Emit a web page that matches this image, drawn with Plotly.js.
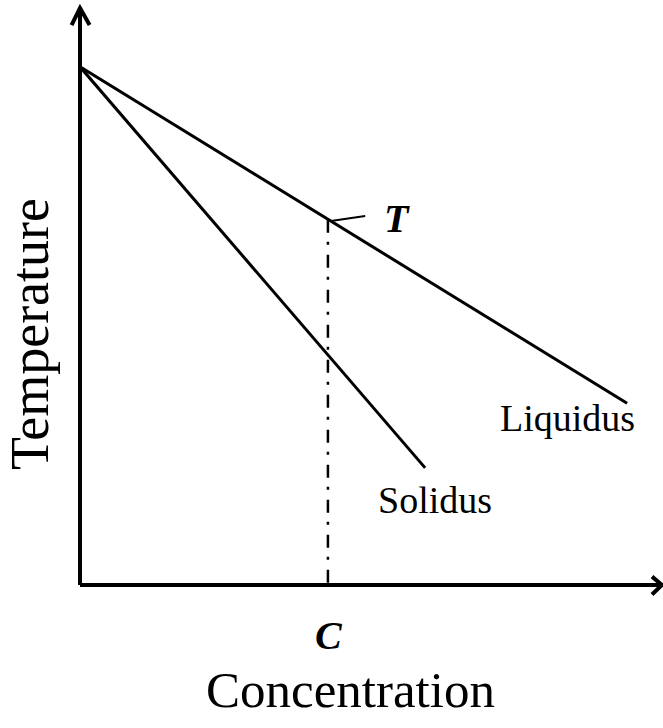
<!DOCTYPE html>
<html>
<head>
<meta charset="utf-8">
<script src="https://cdn.plot.ly/plotly-3.0.1.min.js"></script>
<style>html,body{margin:0;padding:0;background:#fff;}#chart{width:663px;height:728px;}</style>
</head>
<body>
<div id="chart"></div>
<script>
// Data (normalised concentration / temperature units)
const liquidusConc = [0, 0.940];
const liquidusTemp = [0.898, 0.315];
const solidusConc = [0, 0.593];
const solidusTemp = [0.898, 0.203];
const cValue = 0.426;      // concentration C
const tValue = 0.633;      // temperature T on liquidus at C
const labels = {liquidus: 'Liquidus', solidus: 'Solidus', T: 'T', C: 'C',
                xTitle: 'Concentration', yTitle: 'Temperature'};

const serif = 'Liberation Serif, Times New Roman, serif';

const traces = [
  {x: liquidusConc, y: liquidusTemp, mode: 'lines', line: {color: '#000', width: 3}, hoverinfo: 'skip'},
  {x: solidusConc, y: solidusTemp, mode: 'lines', line: {color: '#000', width: 3}, hoverinfo: 'skip'},
  {x: [cValue, cValue], y: [tValue, 0], mode: 'lines',
   line: {color: '#000', width: 2.5, dash: '13px,9px,3px,10px'}, hoverinfo: 'skip'}
];

const layout = {
  width: 663, height: 728,
  margin: {l: 80, r: 1, t: 8, b: 143},
  paper_bgcolor: '#fff', plot_bgcolor: '#fff',
  showlegend: false,
  xaxis: {range: [0, 1], showgrid: false, zeroline: false, showline: false, showticklabels: false, ticks: '', fixedrange: true},
  yaxis: {range: [0, 1], showgrid: false, zeroline: false, showline: false, showticklabels: false, ticks: '', fixedrange: true},
  shapes: [
    // axes
    {type: 'line', xref: 'paper', yref: 'paper', x0: 0, y0: 0, x1: 0, y1: 0.995, line: {color: '#000', width: 4}},
    {type: 'line', xref: 'paper', yref: 'paper', x0: 0, y0: 0, x1: 0.997, y1: 0, line: {color: '#000', width: 4}},
    // arrow heads
    {type: 'path', xref: 'paper', yref: 'paper', path: 'M -0.0145 0.9705 L 0 1.0 L 0.0165 0.9705', line: {color: '#000', width: 4}},
    {type: 'path', xref: 'paper', yref: 'paper', path: 'M 0.9828 0.0145 L 1.0 0 L 0.9828 -0.0165', line: {color: '#000', width: 4}},
    // leader line to T
    {type: 'line', xref: 'paper', yref: 'paper', x0: 0.431, y0: 0.631, x1: 0.490, y1: 0.6395, line: {color: '#000', width: 2}}
  ],
  annotations: [
    {xref: 'paper', yref: 'paper', x: 0.545, y: 0.636, text: '<b><i>' + labels.T + '</i></b>', showarrow: false,
     font: {family: serif, size: 40, color: '#000'}, xanchor: 'center', yanchor: 'middle'},
    {xref: 'paper', yref: 'paper', x: 0.428, y: -0.087, text: '<b><i>' + labels.C + '</i></b>', showarrow: false,
     font: {family: serif, size: 40, color: '#000'}, xanchor: 'center', yanchor: 'middle'},
    {xref: 'paper', yref: 'paper', x: 0.837, y: 0.289, text: labels.liquidus, showarrow: false,
     font: {family: serif, size: 38, color: '#000'}, xanchor: 'center', yanchor: 'middle'},
    {xref: 'paper', yref: 'paper', x: 0.610, y: 0.147, text: labels.solidus, showarrow: false,
     font: {family: serif, size: 38, color: '#000'}, xanchor: 'center', yanchor: 'middle'},
    {xref: 'paper', yref: 'paper', x: -0.0859, y: 0.435, text: labels.yTitle, showarrow: false, textangle: -90,
     font: {family: serif, size: 54, color: '#000'}, xanchor: 'center', yanchor: 'middle'},
    {xref: 'paper', yref: 'paper', x: 0.464, y: -0.182, text: labels.xTitle, showarrow: false,
     font: {family: serif, size: 51, color: '#000'}, xanchor: 'center', yanchor: 'middle'}
  ]
};

Plotly.newPlot('chart', traces, layout, {displayModeBar: false, staticPlot: true});
</script>
</body>
</html>
